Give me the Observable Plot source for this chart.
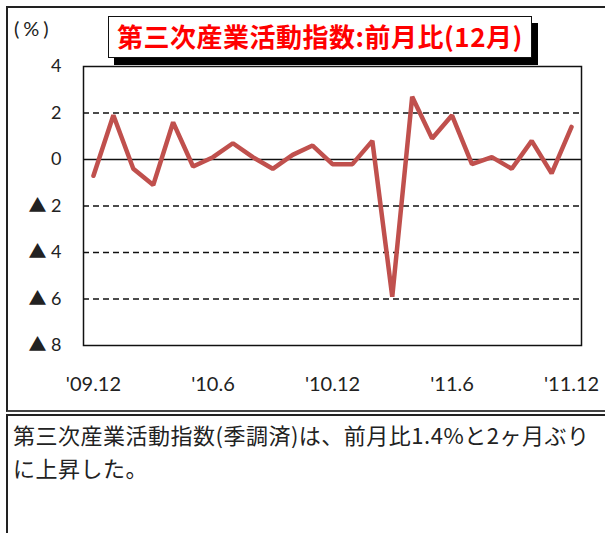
<!DOCTYPE html>
<html>
<head>
<meta charset="utf-8">
<script src="https://cdn.jsdelivr.net/npm/d3@7"></script>
<script src="https://cdn.jsdelivr.net/npm/@observablehq/plot@0.6"></script>
<style>
  body { margin: 0; background: #fff; }
  #root { position: relative; width: 605px; height: 533px; overflow: hidden; background: #fff; }
  .box { position: absolute; box-sizing: border-box; }
  #chartbox { left: 6px; top: 6px; width: 640px; height: 406px; border-top: 2px solid #222; border-left: 2px solid #222; border-bottom: 2px solid #444; }
  #textbox { left: 6px; top: 414px; width: 640px; height: 200px; border-top: 2px solid #222; border-left: 2px solid #222; }
  #plot { position: absolute; left: 0; top: 0; }
  #unit { position: absolute; left: 14px; top: 16px; font-family: Lato, "Noto Sans CJK JP", sans-serif; font-size: 20px; letter-spacing: 4px; color: #222; line-height: 24px; }
  #title { position: absolute; left: 108px; top: 16px; width: 424px; height: 42px; box-sizing: border-box;
           border: 1.5px solid #111; background: #fff; box-shadow: 6px 7px 0 #000;
           font-family: "Noto Sans CJK JP", sans-serif; font-weight: bold; font-size: 26px; letter-spacing: 0.5px;
           color: #ff0000; text-align: center; line-height: 38px; white-space: nowrap; }
  #caption { position: absolute; left: 13px; top: 418px; width: 600px; font-family: "Noto Sans CJK JP", sans-serif; font-size: 22px; letter-spacing: 0.5px; color: #222; line-height: 33px; white-space: nowrap; }
</style>
</head>
<body>
<div id="root">
  <div class="box" id="chartbox"></div>
  <div class="box" id="textbox"></div>
  <div id="plot"></div>
  <div id="unit">(%)</div>
  <div id="title"></div>
  <div id="caption"></div>
</div>
<script>
const titleText = "第三次産業活動指数:前月比(12月)";
const captionLines = ["第三次産業活動指数(季調済)は、前月比1.4%と2ヶ月ぶり", "に上昇した。"];
const months = ["'09.12","'10.1","'10.2","'10.3","'10.4","'10.5","'10.6","'10.7","'10.8","'10.9","'10.10","'10.11","'10.12",
                "'11.1","'11.2","'11.3","'11.4","'11.5","'11.6","'11.7","'11.8","'11.9","'11.10","'11.11","'11.12"];
const values = [-0.7, 1.9, -0.4, -1.1, 1.6, -0.3, 0.1, 0.7, 0.1, -0.4, 0.2, 0.6, -0.2,
                -0.2, 0.8, -5.9, 2.7, 0.9, 1.9, -0.2, 0.1, -0.4, 0.8, -0.6, 1.4];
const xTickLabels = ["'09.12", "'10.6", "'10.12", "'11.6", "'11.12"];
const yTicks = [4, 2, 0, -2, -4, -6, -8];
const gridLines = [2, -2, -4, -6];

const data = months.map((m, i) => ({month: m, value: values[i]}));

document.getElementById("title").textContent = titleText;
document.getElementById("caption").innerHTML = captionLines.join("<br>");

const chart = Plot.plot({
  width: 605,
  height: 410,
  marginLeft: 83,
  marginRight: 24,
  marginTop: 66,
  marginBottom: 65,
  style: {fontFamily: "Lato, 'Noto Sans CJK JP', sans-serif", background: "transparent", color: "#222"},
  x: {type: "point", domain: months, padding: 0.5, round: false},
  y: {domain: [-8, 4]},
  marks: [
    Plot.ruleY(gridLines, {stroke: "#111", strokeWidth: 1.5, strokeDasharray: "6,4"}),
    Plot.ruleY([0], {stroke: "#111", strokeWidth: 1.5}),
    Plot.frame({stroke: "#111", strokeWidth: 1.5}),
    Plot.line(data, {x: "month", y: "value", stroke: "#C0504D", strokeWidth: 4.5, strokeLinejoin: "miter", strokeLinecap: "round"}),
    Plot.axisY({ticks: yTicks, tickSize: 0, tickPadding: 22, fontSize: 18, label: null,
                tickFormat: v => v < 0 ? "▲ " + (-v) : String(v)}),
    Plot.axisX({ticks: xTickLabels, tickSize: 0, tickPadding: 31, fontSize: 20, label: null})
  ]
});
document.getElementById("plot").appendChild(chart);
</script>
</body>
</html>
